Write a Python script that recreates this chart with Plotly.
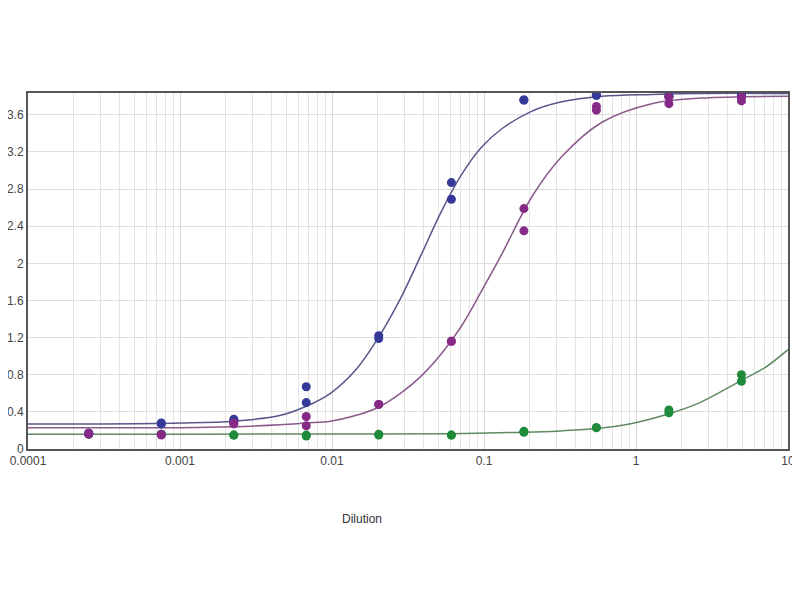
import plotly.graph_objects as go

# Dilution series (x values of measured points)
dilutions = [0.000251, 0.000753, 0.00226, 0.00677, 0.0203, 0.061, 0.183, 0.549, 1.646, 4.94]

# Replicate measurements (two per dilution)
blue_rep1 = [0.17, 0.28, 0.32, 0.67, 1.22, 2.87, 3.76, 3.81, 3.80, 3.81]
blue_rep2 = [0.17, 0.27, 0.30, 0.50, 1.19, 2.69, 3.76, 3.81, 3.80, 3.81]
purple_rep1 = [0.17, 0.16, 0.28, 0.35, 0.48, 1.16, 2.59, 3.69, 3.79, 3.79]
purple_rep2 = [0.16, 0.15, 0.27, 0.25, 0.48, 1.16, 2.35, 3.65, 3.72, 3.75]
green_rep1 = [0.16, 0.16, 0.15, 0.15, 0.16, 0.15, 0.19, 0.23, 0.42, 0.80]
green_rep2 = [0.16, 0.16, 0.15, 0.14, 0.15, 0.15, 0.18, 0.23, 0.39, 0.73]

# Fitted curves
curve_x = [0.0001, 0.000298, 0.00100, 0.00226, 0.00453, 0.00677, 0.00977, 0.0143, 0.0202,
           0.0282, 0.0383, 0.0521, 0.0708, 0.0962, 0.131, 0.207, 0.325, 0.597, 1.27, 2.70, 10.0]
blue_curve = [0.27, 0.27, 0.28, 0.30, 0.36, 0.46, 0.60, 0.85, 1.20, 1.62, 2.08, 2.55, 2.95,
              3.25, 3.45, 3.64, 3.74, 3.80, 3.82, 3.83, 3.83]
purple_curve = [0.23, 0.23, 0.23, 0.24, 0.26, 0.28, 0.30, 0.36, 0.45, 0.60, 0.78, 1.02, 1.32,
                1.70, 2.10, 2.72, 3.15, 3.52, 3.72, 3.78, 3.80]

green_x = [0.0001, 0.00135, 0.0199, 0.061, 0.126, 0.183, 0.317, 0.549, 0.905, 1.646, 2.63, 4.94, 7.10, 10.0]
green_curve = [0.16, 0.16, 0.162, 0.165, 0.175, 0.18, 0.195, 0.22, 0.27, 0.38, 0.50, 0.74, 0.88, 1.07]

y_ticks = [0, 0.4, 0.8, 1.2, 1.6, 2, 2.4, 2.8, 3.2, 3.6]
x_ticks = [0.0001, 0.001, 0.01, 0.1, 1, 10]
x_tick_labels = ["0.0001", "0.001", "0.01", "0.1", "1", "10"]

BLUE = "#35399a"
PURPLE = "#862a88"
GREEN = "#1f8a3a"

fig = go.Figure()

# curves
fig.add_trace(go.Scatter(x=green_x, y=green_curve, mode="lines", line_shape="spline",
                         line=dict(color="#5f8a63", width=1.5), hoverinfo="skip"))
fig.add_trace(go.Scatter(x=curve_x, y=purple_curve, mode="lines", line_shape="spline",
                         line=dict(color="#8a5a8c", width=1.5), hoverinfo="skip"))
fig.add_trace(go.Scatter(x=curve_x, y=blue_curve, mode="lines", line_shape="spline",
                         line=dict(color="#56568c", width=1.5), hoverinfo="skip"))

# points
for ys, col in [(green_rep1, GREEN), (green_rep2, GREEN),
                (blue_rep1, BLUE), (blue_rep2, BLUE),
                (purple_rep1, PURPLE), (purple_rep2, PURPLE)]:
    fig.add_trace(go.Scatter(x=dilutions, y=ys, mode="markers",
                             marker=dict(color=col, size=9, line=dict(width=0))))

fig.add_annotation(text="Dilution", xref="paper", yref="paper", x=0.44, y=-0.223,
                   showarrow=False, font=dict(size=12, color="#333333"))

fig.update_layout(
    width=792, height=592,
    margin=dict(l=20, r=12, t=85, b=151, autoexpand=False),
    paper_bgcolor="white", plot_bgcolor="white",
    showlegend=False,
    font=dict(family="Liberation Sans, Arial, sans-serif", size=11, color="#444444"),
    xaxis=dict(type="log", range=[-4, 1], tickvals=x_ticks, ticktext=x_tick_labels,
               automargin=False,
               showgrid=True, gridcolor="#d9d9d9", gridwidth=1,
               minor=dict(dtick="D1", showgrid=True, gridcolor="#e4e4e4", gridwidth=1),
               showline=True, mirror=True, linecolor="#555555", linewidth=2,
               ticks="", zeroline=False, tickfont=dict(size=12, color="#444444")),
    yaxis=dict(range=[0, 3.835], tickvals=y_ticks, automargin=False,
               showgrid=True, gridcolor="#dedede", gridwidth=1,
               showline=True, mirror=True, linecolor="#555555", linewidth=2,
               ticks="", zeroline=False, tickfont=dict(size=12, color="#444444")),
)

fig.write_html("out.html")
